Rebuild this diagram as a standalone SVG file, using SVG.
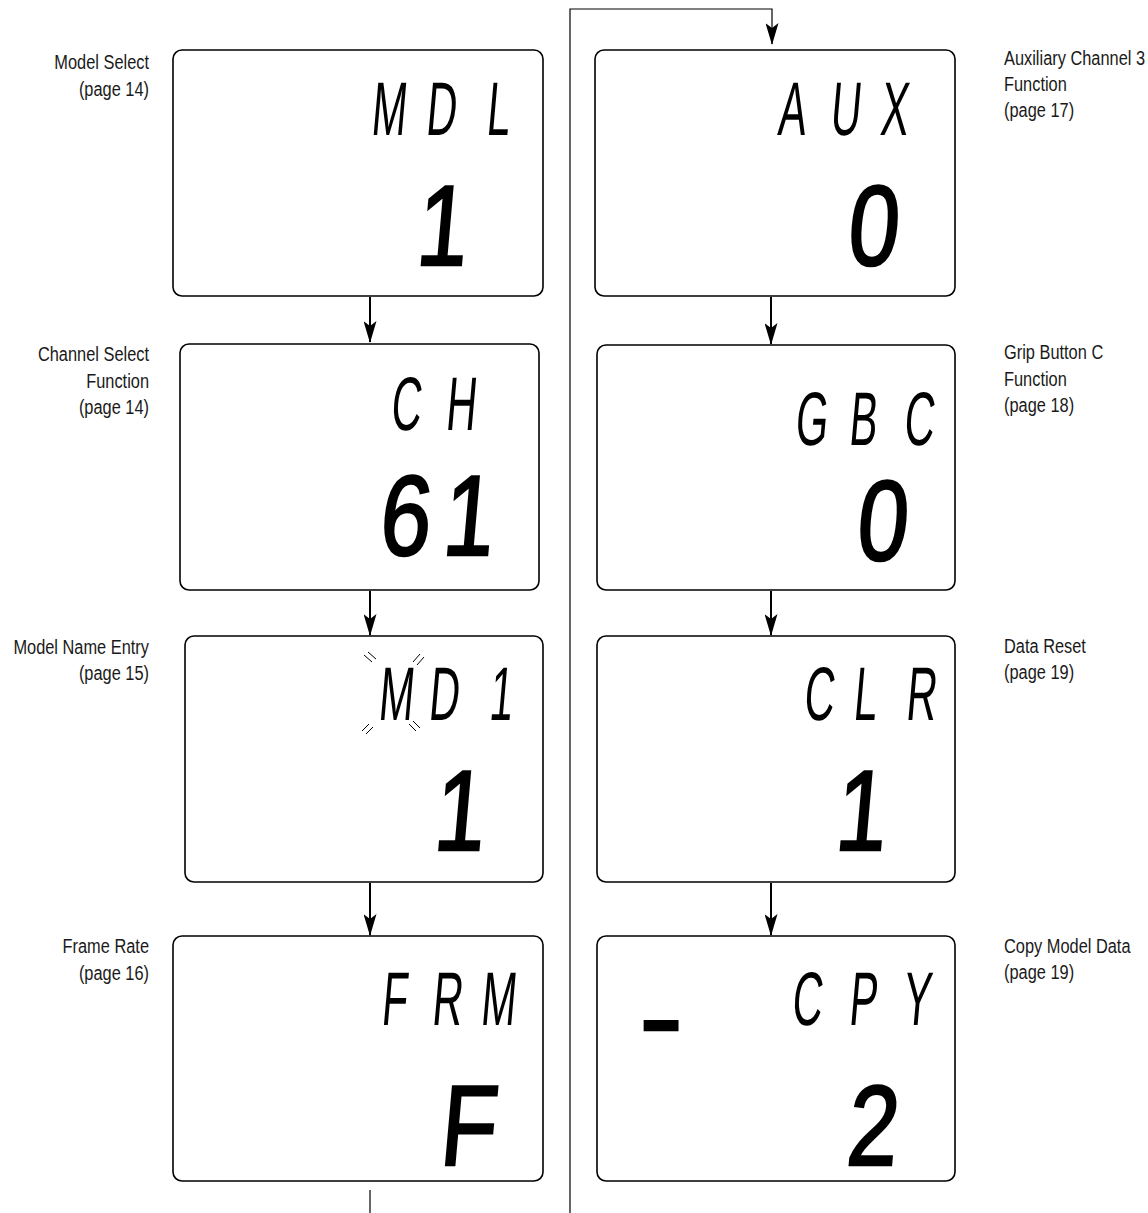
<svg xmlns="http://www.w3.org/2000/svg" width="1148" height="1213" viewBox="0 0 1148 1213">
<defs>
<style>
.box{fill:#fff;stroke:#000;stroke-width:1.6}
.lbl{font-family:"Liberation Sans",Arial,sans-serif;font-size:21px;fill:#1a1a1a}
.r{text-anchor:end}
.top{font-family:"Liberation Sans",Arial,sans-serif;font-size:76px;fill:#000;text-anchor:middle}
.big{font-family:"Liberation Sans",Arial,sans-serif;font-size:114px;fill:#000;stroke:#000;stroke-width:2.5;text-anchor:middle}
.conn{fill:none;stroke:#000;stroke-width:2}
.thin{fill:none;stroke:#000;stroke-width:1.2}
.blink{stroke:#000;stroke-width:1}
</style>
<marker id="ah" markerWidth="22" markerHeight="13" refX="21" refY="6.5" orient="auto" markerUnits="userSpaceOnUse" viewBox="0 0 22 13">
<path d="M0,0 L22,6.5 L0,13 L5,6.5 Z" fill="#000"/>
</marker>
</defs>

<g id="connectors">
<line class="conn" x1="370" y1="297" x2="370" y2="342" marker-end="url(#ah)"/>
<line class="conn" x1="370" y1="591" x2="370" y2="635" marker-end="url(#ah)"/>
<line class="conn" x1="370" y1="883" x2="370" y2="935" marker-end="url(#ah)"/>
<line class="thin" x1="370" y1="1190" x2="370" y2="1213"/>
<polyline class="thin" points="570,1213 570,9 772,9 772,44" marker-end="url(#ah)"/>
<line class="conn" x1="771" y1="297" x2="771" y2="344" marker-end="url(#ah)"/>
<line class="conn" x1="771" y1="591" x2="771" y2="635" marker-end="url(#ah)"/>
<line class="conn" x1="771" y1="883" x2="771" y2="935" marker-end="url(#ah)"/>
</g>

<g id="node-mdl">
<rect class="box" x="173" y="50" width="370" height="246" rx="9"/>
<text class="lbl r" transform="translate(149,69) scale(0.78,1)">Model Select</text>
<text class="lbl r" transform="translate(149,96) scale(0.78,1)">(page 14)</text>
<text class="top" transform="translate(0,135) skewX(-5) scale(0.55,1)"><tspan x="705">M</tspan><tspan x="800">D</tspan><tspan x="904">L</tspan></text>
<text class="big" transform="translate(0,265) skewX(-5) scale(0.8,1)" x="550">1</text>
</g>

<g id="node-ch">
<rect class="box" x="180" y="344" width="359" height="246" rx="9"/>
<text class="lbl r" transform="translate(149,361) scale(0.78,1)">Channel Select</text>
<text class="lbl r" transform="translate(149,388) scale(0.78,1)">Function</text>
<text class="lbl r" transform="translate(149,414) scale(0.78,1)">(page 14)</text>
<text class="top" transform="translate(0,430) skewX(-5) scale(0.55,1)"><tspan x="736">C</tspan><tspan x="836">H</tspan></text>
<text class="big" transform="translate(0,555) skewX(-5) scale(0.8,1)"><tspan x="504">6</tspan><tspan x="583">1</tspan></text>
</g>

<g id="node-md1">
<rect class="box" x="185" y="636" width="358" height="246" rx="9"/>
<text class="lbl r" transform="translate(149,654) scale(0.78,1)">Model Name Entry</text>
<text class="lbl r" transform="translate(149,680) scale(0.78,1)">(page 15)</text>
<text class="top" transform="translate(0,720) skewX(-5) scale(0.55,1)"><tspan x="718">M</tspan><tspan x="805">D</tspan><tspan x="909">1</tspan></text>
<g class="blink">
<line x1="364" y1="655" x2="372" y2="662"/><line x1="368" y1="652" x2="376" y2="659"/>
<line x1="413" y1="662" x2="420" y2="654"/><line x1="417" y1="665" x2="424" y2="657"/>
<line x1="362" y1="731" x2="369" y2="724"/><line x1="366" y1="734" x2="373" y2="727"/>
<line x1="409" y1="724" x2="416" y2="731"/><line x1="413" y1="721" x2="420" y2="728"/>
</g>
<text class="big" transform="translate(0,850) skewX(-5) scale(0.8,1)" x="572">1</text>
</g>

<g id="node-frm">
<rect class="box" x="173" y="936" width="370" height="245" rx="9"/>
<text class="lbl r" transform="translate(149,953) scale(0.78,1)">Frame Rate</text>
<text class="lbl r" transform="translate(149,980) scale(0.78,1)">(page 16)</text>
<text class="top" transform="translate(0,1025) skewX(-5) scale(0.55,1)"><tspan x="715">F</tspan><tspan x="811">R</tspan><tspan x="904">M</tspan></text>
<text class="big" transform="translate(0,1165) skewX(-5) scale(0.8,1)" x="583">F</text>
</g>

<g id="node-aux">
<rect class="box" x="595" y="50" width="360" height="246" rx="9"/>
<text class="lbl" transform="translate(1004,65) scale(0.78,1)">Auxiliary Channel 3</text>
<text class="lbl" transform="translate(1004,91) scale(0.78,1)">Function</text>
<text class="lbl" transform="translate(1004,117) scale(0.78,1)">(page 17)</text>
<text class="top" transform="translate(0,135) skewX(-5) scale(0.55,1)"><tspan x="1438">A</tspan><tspan x="1535">U</tspan><tspan x="1624">X</tspan></text>
<text class="big" transform="translate(0,265) skewX(-5) scale(0.8,1)" x="1089">0</text>
</g>

<g id="node-gbc">
<rect class="box" x="597" y="345" width="358" height="245" rx="9"/>
<text class="lbl" transform="translate(1004,359) scale(0.78,1)">Grip Button C</text>
<text class="lbl" transform="translate(1004,386) scale(0.78,1)">Function</text>
<text class="lbl" transform="translate(1004,412) scale(0.78,1)">(page 18)</text>
<text class="top" transform="translate(0,445) skewX(-5) scale(0.55,1)"><tspan x="1473">G</tspan><tspan x="1567">B</tspan><tspan x="1669">C</tspan></text>
<text class="big" transform="translate(0,560) skewX(-5) scale(0.8,1)" x="1100">0</text>
</g>

<g id="node-clr">
<rect class="box" x="597" y="636" width="358" height="246" rx="9"/>
<text class="lbl" transform="translate(1004,653) scale(0.78,1)">Data Reset</text>
<text class="lbl" transform="translate(1004,679) scale(0.78,1)">(page 19)</text>
<text class="top" transform="translate(0,720) skewX(-5) scale(0.55,1)"><tspan x="1487">C</tspan><tspan x="1571">L</tspan><tspan x="1673">R</tspan></text>
<text class="big" transform="translate(0,850) skewX(-5) scale(0.8,1)" x="1074">1</text>
</g>

<g id="node-cpy">
<rect class="box" x="597" y="936" width="358" height="245" rx="9"/>
<text class="lbl" transform="translate(1004,953) scale(0.78,1)">Copy Model Data</text>
<text class="lbl" transform="translate(1004,979) scale(0.78,1)">(page 19)</text>
<text class="top" transform="translate(0,1025) skewX(-5) scale(0.55,1)"><tspan x="1465">C</tspan><tspan x="1567">P</tspan><tspan x="1665">Y</tspan></text>
<text class="big" transform="translate(661,1056) scale(1.15,1)" x="0">-</text>
<text class="big" transform="translate(0,1165) skewX(-5) scale(0.8,1)" x="1088">2</text>
</g>
</svg>
